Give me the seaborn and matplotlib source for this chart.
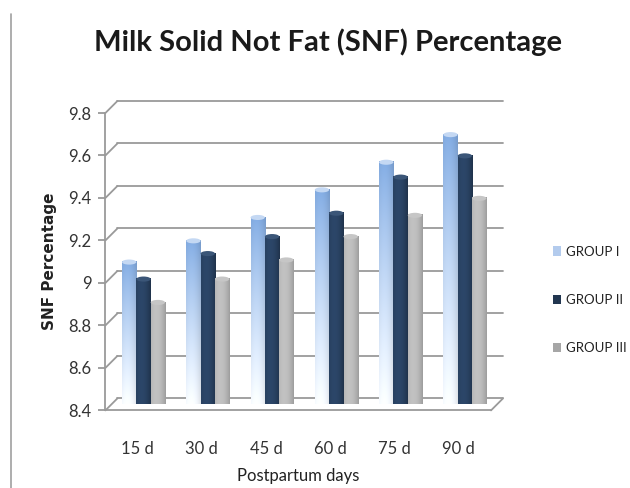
import numpy as np
import pandas as pd
import matplotlib
matplotlib.use("Agg")
import matplotlib.pyplot as plt
import seaborn as sns
from matplotlib.patches import ConnectionPatch, Ellipse, Patch
from matplotlib.colors import to_rgb

# ---- data -------------------------------------------------------------
days = ["15 d", "30 d", "45 d", "60 d", "75 d", "90 d"]
groups = ["GROUP I", "GROUP II", "GROUP III"]
group1 = [9.07, 9.17, 9.28, 9.41, 9.54, 9.67]
group2 = [8.99, 9.11, 9.19, 9.30, 9.47, 9.57]
group3 = [8.88, 8.99, 9.08, 9.19, 9.29, 9.37]
y_ticks = [8.4, 8.6, 8.8, 9.0, 9.2, 9.4, 9.6, 9.8]
y_ticklabels = ["8.4", "8.6", "8.8", "9", "9.2", "9.4", "9.6", "9.8"]

df = pd.DataFrame({
    "day": days * 3,
    "snf": group1 + group2 + group3,
    "group": [g for g in groups for _ in days],
})

sns.set_style("white")
plt.rcParams["font.family"] = ["Lato", "DejaVu Sans"]

W, H = 630, 488
fig = plt.figure(figsize=(W / 100, H / 100), dpi=100)


def px_axes(left, top, right, bottom):
    return fig.add_axes([left / W, 1 - bottom / H, (right - left) / W, (bottom - top) / H])


YLIM = (8.4, 9.8)
XLIM = (-0.5, 5.5)
depth = 6  # pseudo-3D depth offset in pixels
mid_box = (111.4, 107, 497, 404.4)

back = px_axes(mid_box[0] + depth, mid_box[1] - depth, mid_box[2] + depth, mid_box[3] - depth)
mid = px_axes(*mid_box)
front = px_axes(mid_box[0] - depth, mid_box[1] + depth, mid_box[2] - depth, mid_box[3] + depth)

grid_col = "#9a9a9a"

# back wall with gridlines
back.set_zorder(0)
back.set_xlim(XLIM)
back.set_ylim(YLIM)
back.axis("off")
for v in y_ticks:
    back.axhline(v, color=grid_col, lw=1.3, clip_on=False)

# bars drawn by seaborn, then restyled as shaded columns
palette = {"GROUP I": "#a9c5ec", "GROUP II": "#223650", "GROUP III": "#a6a6a6"}
mid.set_zorder(1)
mid.patch.set_alpha(0)
sns.barplot(data=df, x="day", y="snf", hue="group", order=days, hue_order=groups,
            palette=palette, width=0.67, gap=0.0, ax=mid, legend=False,
            errorbar=None, saturation=1)


def shade_image(kind, nx=40, ny=60):
    xs = np.linspace(0, 1, nx)
    ys = np.linspace(0, 1, ny)[:, None]  # 0 at top row
    # cylinder shading across the bar
    cyl = 1 - 0.55 * ((xs - 0.35) / 0.65) ** 2
    cyl = cyl[None, :]
    if kind == 0:
        top = np.array(to_rgb("#7fa7dc"))
        bot = np.array(to_rgb("#f4f8fd"))
        t = (ys ** 0.9)[..., None]
        base = top * (1 - t) + bot * t
        img = base * (0.82 + 0.22 * cyl[..., None])
    elif kind == 1:
        base = np.array(to_rgb("#263d5b"))
        img = np.broadcast_to(base, (ny, nx, 3)) * (0.55 + 0.6 * cyl[..., None])
    else:
        base = np.array(to_rgb("#b0b0b0"))
        img = np.broadcast_to(base, (ny, nx, 3)) * (0.72 + 0.38 * cyl[..., None])
    return np.clip(img, 0, 1)


cap_cols = ["#c4d8f3", "#3b5678", "#c6c6c6"]
cap_h = 0.024
for i, bar in enumerate(mid.patches):
    kind = i // len(days)
    x0, w, h = bar.get_x(), bar.get_width(), bar.get_height()
    bar.set_visible(False)
    mid.imshow(shade_image(kind), extent=[x0, x0 + w, YLIM[0], h],
               aspect="auto", interpolation="bilinear", zorder=2)
    mid.add_patch(Ellipse((x0 + w / 2, h), w, cap_h, facecolor=cap_cols[kind],
                          edgecolor="none", zorder=3))
    mid.add_patch(Ellipse((x0 + w / 2, YLIM[0]), w, cap_h,
                          facecolor=shade_image(kind)[-1, 12], edgecolor="none", zorder=1.9))
mid.set_xlim(XLIM)
mid.set_ylim(YLIM)
mid.axis("off")

# front plane: value axis, floor edge, category labels
front.set_zorder(2)
front.patch.set_alpha(0)
front.set_xlim(XLIM)
front.set_ylim(YLIM)
for s in ["top", "right"]:
    front.spines[s].set_visible(False)
for s in ["left", "bottom"]:
    front.spines[s].set_color(grid_col)
    front.spines[s].set_linewidth(1.3)
front.set_yticks(y_ticks)
front.set_yticklabels(y_ticklabels, fontsize=12, color="#333333")
front.set_xticks(range(len(days)))
front.set_xticklabels(days, fontsize=12, color="#333333")
front.tick_params(axis="y", length=5, width=1.3, color=grid_col, pad=5, left=True)
front.tick_params(axis="x", length=0, pad=22)
front.set_xlabel("Postpartum days", fontsize=12, color="#222222", labelpad=8)
front.set_ylabel("SNF Percentage", fontsize=11, fontweight="bold",
                 family="DejaVu Sans", color="#222222", labelpad=8)

# receding side-wall and floor edges joining front and back planes
for v in y_ticks:
    fig.add_artist(ConnectionPatch(xyA=(XLIM[0], v), coordsA=front.transData,
                                   xyB=(XLIM[0], v), coordsB=back.transData,
                                   color=grid_col, lw=1.3))
fig.add_artist(ConnectionPatch(xyA=(XLIM[1], YLIM[0]), coordsA=front.transData,
                               xyB=(XLIM[1], YLIM[0]), coordsB=back.transData,
                               color=grid_col, lw=1.3))

# legend
handles = [Patch(facecolor=c, edgecolor="none") for c in ["#b3cbed", "#223650", "#a6a6a6"]]
fig.legend(handles, groups, loc="center left", bbox_to_anchor=(541 / W, 1 - 300 / H),
           frameon=False, fontsize=9.5, labelspacing=2.75, handlelength=0.6,
           handleheight=0.7, handletextpad=0.4, labelcolor="#222222")

# title and left border
fig.text(328 / W, 1 - 42 / H, "Milk Solid Not Fat (SNF) Percentage", ha="center",
         va="center", fontsize=21, fontweight="bold", color="#1a1a1a")
fig.add_artist(plt.Line2D([11 / W, 11 / W], [0, 1 - 14 / H], transform=fig.transFigure,
                          color="#a0a0a0", lw=1.2))

fig.savefig("out.png", dpi=100)
